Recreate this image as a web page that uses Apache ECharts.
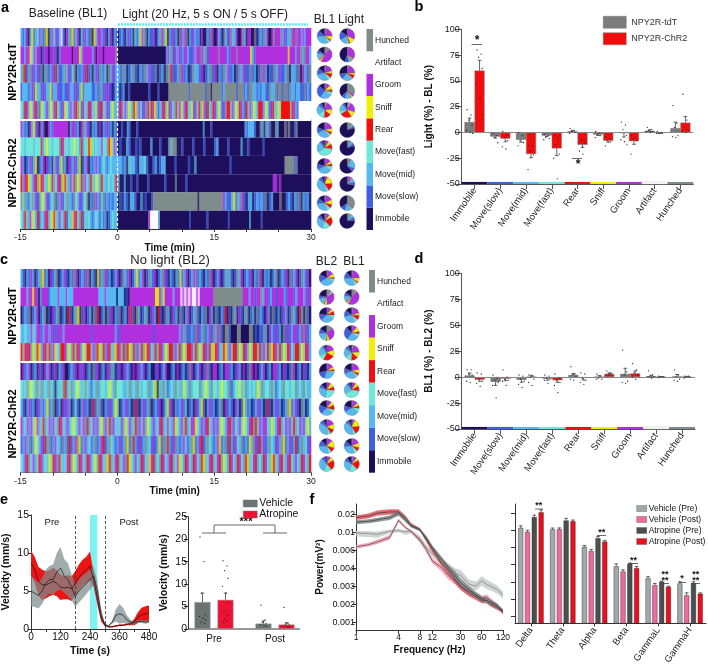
<!DOCTYPE html>
<html><head><meta charset="utf-8">
<style>html,body{margin:0;padding:0;background:#fff}#c{width:708px;height:667px}</style>
<script src="https://cdn.jsdelivr.net/npm/echarts@6/dist/echarts.min.js"></script>
</head><body><div id="c"></div>
<script>
const behaviours = ['Immobile','Move(slow)','Move(mid)','Move(fast)','Rear','Sniff','Groom','Artifact','Hunched'];
const behaviourColors = ['#1e0f5c','#3f5fe0','#55b8f0','#6ee8d8','#f00f0f','#f0f000','#b030e0','#ffffff','#7f8c8c'];

// rasters: digits index behaviours; "|" splits pre / post light
const rasterA = [
"21260251236218502631627106285126031621805266261026021|01210261203125628021160128625021612086268021621206002186006210821682260068206600801218260068666826122866866262666",
"66266536266016606616026666660666526666626066606666668|000000000000000000000000000262816261266211626686281666668666621666866666665216666666666666666665666266828662",
"28412861261802812614211282613802126141202618213082612|2182012810218261180120824112861201822160128160218261201826118120186201182611280221806218",
"12221261522161225122611211622161251222211218216161012|2012001000000000010000100000888888888881888888881880888881288888818881218822121221182281881881822122118121",
"32462536421532625364321653263642516324632516432613522|24636253245263162434652136425163243652643251634256143246253162443625346214362532446253164325344444346217777777",
"62120625160260062166666666026612068261021206021612021|001002100010000000000000000000000000000000000200010000000000000000021222100820281008200080800180000000",
"33233332333423533233324633233533242334532323633245362|0100210010100002000100082880010000100001000012000010000020010000001000000000000000000000",
"62012612501260612036125120612612501260212621232123222|2212032210223100120122000010000010020000000000000001000000000000000000000000888818000000",
"42645326425463253423642543263425342632432532432232324|2002001001000010000000100008000010000000000000000000000000000000000000000660600000000000000",
"83821382618352612381826138221832612380218621381212122|01021022100201001888888888888888888888088888888888621125128610220121218012000800121021802120",
"32432653241326423543263241325643241323212321312012322|0000000000000000677772000000000000000100000000100000000001000000000020000010000000000000000000000000"
];
const rasterC = [
"2102162012851206128012610218601216802105128612012601821601251260182160128610210215126012681210218601260128210182601216021860212012801216081260182160",
"66626656602666122226222622266666666666662226222220222010666666666666655625666626667676767767666666688888888888888866626616682661266166621666126662616",
"0121801260128010612801204102850160120814012081602180120641082012801620410182061208102601281021806208102140108206102801208121062081020162018210420810",
"2232263266126626161662666666666666616666666666626166666666666666661666666666666262811218612812618268108810008800008801011820621612081612661268612",
"4346425345264342653244635243462534436245342643254634245342634254632434625344263425344634253462435462345263442534625344342634254634253463244253462",
"0612601206106260160216001216061601208160120618201601621060612601200160126001206012018601260168106601206612016206018606012601206612061018601206102",
"3238353283823283203238423823532383213282332353283332238232832332823503283123283225328233382353283323533281233523823232538233283123283323382328322",
"2102612016212512801206162013102612014128102161253012612014102612801216012516021261301206125102612012806121062015212012612014102612012851261082013",
"6236263562342362632463262353263624236263526342632362536234263625326236423632653263423665326264326263532642632635326424362663253264236263423626352",
"1262812532614281263218214126851262312812641283212612851242161282316125182421682126312851264128321265128142163281215286142612832162851261241282316",
"3264236234623253462432364253246324623524632542364236245326324632564232463264236532463246324523642364253246324632452364232463254326432643263246324"
];

// pies: Hunched, Artifact, Groom, Sniff, Rear, Fast, Mid, Slow, Immobile (clockwise from top)
const pieOrder = [8,7,6,5,4,3,2,1,0];
const piesBL1 = [[3,0,22,9,3,7,30,14,12],[10,1,47,4,2,3,11,7,15],[3,0,18,5,10,8,28,14,14],[2,0,10,10,5,8,25,28,12],[3,1,20,12,15,14,20,8,7],[2,0,20,8,5,6,28,12,19],[1,0,8,7,11,40,22,6,5],[2,0,12,6,5,10,32,13,20],[1,0,6,17,17,7,38,8,6],[3,0,15,10,8,8,28,12,14],[3,0,8,6,20,18,27,8,10]];
const piesLight = [[2,0,30,12,3,5,15,18,15],[3,0,33,3,1,2,5,8,45],[3,0,22,5,8,3,20,12,27],[32,0,6,3,1,3,10,8,37],[5,2,22,12,25,8,15,5,6],[8,0,0,1,1,1,5,4,80],[5,0,1,1,0,1,6,6,80],[5,0,1,1,1,2,20,8,62],[1,0,8,1,1,2,8,7,72],[35,0,2,1,1,3,13,10,35],[3,1,1,1,1,2,8,7,76]];
const piesBL2 = [[2,0,14,8,3,6,33,17,17],[12,3,35,5,2,3,12,6,22],[1,0,10,6,8,8,30,14,23],[14,0,30,6,2,6,16,10,16],[1,0,18,14,24,12,20,6,5],[2,0,14,6,4,4,25,17,28],[1,0,8,9,8,27,28,7,12],[1,0,10,8,10,8,25,20,18],[1,0,18,12,10,8,35,9,7],[1,0,12,16,10,8,28,13,12],[1,0,8,8,22,17,32,8,4]];

// panel b
const bTdT = [10,-4,-7,-3,1,-2,-0.5,1.5,4];
const bChR2 = [60,-6,-21,-15.5,-12,-8,-8.5,-0.5,9.5];
const bTdTErr = [4,1.5,2.5,1,1,1,4,1,6];
const bChR2Err = [10,3,3.5,7,2.5,1.5,3,0.5,6];
const bTdTDots = [[22,17,12,7,2,0,-1],[-1,-3,-5,-10],[0,-3,-8,-10,-13],[-2,-3,-5,-6,-7],[4,2,1,0,-1],[1,-1,-2,-3,-5],[10,7,3,-3,-7,-9,-12],[5,3,2,1,1,0],[26,9,5,-3,-4,-5]];
const bChR2Dots = [[80,76,73,62,48,33,17],[1,-3,-5,-8,-14,-16],[-13,-13,-18,-22,-36],[-3,-5,-12,-21,-25,-45],[-6,-7,-8,-10,-18,-21],[-4,-6,-8,-9,-13],[-3,-5,-6,-8,-21],[1,0,-0.5,-1,-1],[37,12,5,3,1,0]];
// panel d
const dTdT = [1.5,-4.5,-2.5,-1.5,2,0,3,0.8,0.5];
const dChR2 = [-2.5,-1.5,0.3,-3,-0.8,3,3.5,0.2,0.2];
const dTdTErr = [2.5,3.5,2.5,1.5,1.5,1.5,5.5,1,2];
const dChR2Err = [1.5,2,1.5,2,2,1,2.5,0.3,0.5];
const dTdTDots = [[7,7,3,2,-4,-5],[2,-1,-3,-5,-8,-20],[2,1,-2,-4,-7,-10],[2,1,-1,-2,-3,-6],[10,3,2,1,-2,-3],[3,1,-1,-2,-2],[26,5,2,-4,-5,-6],[6,2,1,0,0,-1],[7,2,0,-2,-3,-4]];
const dChR2Dots = [[4,3,-2,-4,-6,-9],[7,0,-2,-3,-4,-8],[2,1,0,-2,-5,-8],[3,-1,-3,-5,-8,-15],[4,3,-1,-3,-5,-7],[6,4,3,3,2,2],[13,7,4,2,0,-2],[1,0.5,0,0,-0.5],[1,1,0,0,-1]];

// panel e
const eTime = [0,15,30,45,60,75,90,105,120,135,150,165,180,195,210,225,240,255,270,285,300,315,330,345,360,375,390,405,420,435,450,465,480];
const eVehicle = [5,4.7,4.4,5,6,6.5,6.5,7.5,8,7,6.5,5.5,4.3,5,5.5,6,6.5,7,5,2,0.5,0.4,0.9,1.8,2,1.8,1.2,0.9,0.8,1,1,0.9,1];
const eVehicleSem = [2,1.8,1.7,1.7,1.8,1.8,2,2.5,2.8,2.2,2.2,1.7,1.4,1.5,1.5,1.4,1.3,1.2,1.2,0.7,0.2,0.1,0.2,0.8,1.3,1,0.6,0.3,0.2,0.2,0.2,0.2,0.2];
const eAtropine = [8.7,7.8,6.3,5.8,5.8,6,6.3,6,5.5,5.4,5.5,5.3,6,6.8,7.4,7.8,8.3,6.5,4,1.5,0.6,0.3,0.3,0.4,0.5,0.5,0.6,0.7,0.9,1.5,1.9,2,2.1];
const eAtropineSem = [1.6,1.7,1.9,2,1.8,1.7,1.8,1.7,1.7,1.5,1.6,1.6,1.6,1.7,1.7,1.7,1.9,0.9,0.8,0.5,0.2,0.1,0.1,0.1,0.1,0.1,0.1,0.2,0.4,0.7,0.9,1,1];
const eCats = ['Pre','Post'];
const eBarVehicle = [6,1.2], eBarAtropine = [6.5,1];
const eErrVehicle = [2,0.6], eErrAtropine = [1.5,0.4];
const eDotsVehicle = [[20.5,15,8,3.2,2.8,2.4,2,1.5,1.2],[5.3,2,1.5,1.2,1,0.8,0.6]];
const eDotsAtropine = [[15.2,14,13,11.3,9.5,8,6,4,3,2.3,1.7,1.5],[4.8,1.3,1.1,0.9,0.7,0.5,0.4]];

// panel f
const fFreq = [1,1.5,2,3,4,5,6,8,10,12,16,20,25,30,40,50,60,70,80,100,120];
const fAtrPost = [.018,.019,.0205,.0212,.0212,.018,.014,.0115,.0082,.0062,.0046,.0039,.0034,.003,.0026,.0024,.0022,.0022,.002,.0018,.0016];
const fAtrPre = [.0155,.016,.0168,.018,.0205,.0168,.0135,.0112,.0085,.0066,.005,.0041,.0036,.0032,.0028,.0025,.0023,.0022,.0021,.0019,.0016];
const fVehPre = [.0098,.0097,.0095,.0105,.0108,.0102,.0105,.0085,.0065,.0056,.0048,.0042,.0037,.0036,.0031,.003,.0033,.0031,.003,.0028,.0025];
const fVehPost = [.0067,.0072,.0078,.0088,.0165,.0125,.0105,.0082,.006,.0048,.0041,.0036,.0033,.003,.0027,.0025,.0023,.0024,.0022,.0019,.0015];
const fPowerTicks = [.001,.002,.003,.004,.006,.01,.02];
const fFreqTicks = [1,4,8,12,30,60,120];
const fBands = ['Delta','Theta','Alpha','Beta','GammaL','GammaH'];
const fVP = [.0116,.0107,.0062,.0039,.0032,.0029], fVPo = [.0097,.0108,.0056,.0036,.0028,.0022];
const fAP = [.0179,.0159,.0082,.0041,.003,.0029], fAPo = [.0207,.0155,.0074,.0038,.0027,.0023];
const fVPe = [.0012,.0008,.0003,.0002,.0001,.0001], fVPoe = [.0005,.0008,.0002,.0001,.0001,.00015];
const fAPe = [.0012,.0013,.0004,.0001,.00004,.0001], fAPoe = [.0014,.0007,.0003,.0001,.00004,.00005];

const FONT = '"Liberation Sans",Arial,sans-serif';
const AX = '#555';

function rank(v){
  const t = fPowerTicks;
  if (v <= t[0]) return 0.44 + (v-t[0])/(t[1]-t[0]);
  for (let i=0;i<t.length-1;i++) if (v<=t[i+1]) return 0.44+i+(v-t[i])/(t[i+1]-t[i]);
  return 0.44+6+(v-t[6])/(t[6]-t[5]);
}
const rankTicks = fPowerTicks.map(rank);

function hexMix(list){
  let r=0,g=0,b=0;
  list.forEach(([c,w])=>{const n=parseInt(c.slice(1),16);r+=w*(n>>16);g+=w*((n>>8)&255);b+=w*(n&255);});
  return 'rgb('+Math.round(r)+','+Math.round(g)+','+Math.round(b)+')';
}
function rasterData(rows){
  const out=[];
  const seg=(s,a,b,r)=>{const d=(b-a)/s.length;let i=0;const runs=[];
    while(i<s.length){let j=i;while(j<s.length&&s[j]===s[i])j++;runs.push([a+i*d,a+j*d,r,+s[i],j-i]);i=j;}
    runs.forEach((u,k)=>{const own=behaviourColors[u[3]],p=runs[k-1]?behaviourColors[runs[k-1][3]]:own,n=runs[k+1]?behaviourColors[runs[k+1][3]]:own;
      const w=u[4]===1?0.72:(u[4]===2?0.9:1);
      out.push({value:u.slice(0,4),fill:hexMix([[own,w],[p,(1-w)/2],[n,(1-w)/2]])});});};
  rows.forEach((s,r)=>{const p=s.split('|');if(p.length===2){seg(p[0],-15,0,r);seg(p[1],0,30,r);}else seg(s,-15,30,r);});
  return out;
}
function rasterSeries(rows,xi,yi,extra){
  const cells=rasterData(rows);
  return Object.assign({type:'custom',xAxisIndex:xi,yAxisIndex:yi,silent:true,data:cells.map(c=>c.value),encode:{x:[0,1],y:2},
    renderItem:(p,api)=>{const a=api.coord([api.value(0),api.value(2)]),b=api.coord([api.value(1),api.value(2)+1]);
      return {type:'rect',shape:{x:a[0],y:a[1],width:b[0]-a[0]+0.3,height:b[1]-a[1]},style:{fill:cells[p.dataIndex].fill}};}},extra||{});
}
function rasterMark(withZero){
  const d=[{yAxis:5,lineStyle:{color:'#fff',width:2,type:'solid'}}];
  if(withZero) d.push({xAxis:0,lineStyle:{color:'#fff',width:1.2,type:[3,2]}});
  return {markLine:{silent:true,symbol:'none',label:{show:false},animation:false,data:d}};
}
function rasterAxes(grid){
  const x={gridIndex:grid,type:'value',min:-15,max:30,interval:5,axisLine:{onZero:false,lineStyle:{color:'#333'}},axisTick:{length:3,lineStyle:{color:'#333'}},splitLine:{show:false},
    axisLabel:{fontFamily:FONT,fontSize:8.5,color:'#222',margin:4,formatter:v=>v%15===0?String(v):''},
    name:'Time (min)',nameLocation:'middle',nameGap:grid===0?3:5,nameTextStyle:{fontFamily:FONT,fontSize:10,fontWeight:'bold',color:'#111',padding:[0,0,0,grid===0?8:18]}};
  const tick=[.5,1.5,2.5,3.5,4.5,5.5,6.5,7.5,8.5,9.5,10.5];
  const y=pos=>({gridIndex:grid,type:'value',inverse:true,min:0,max:11,position:pos,axisLine:{show:false},splitLine:{show:false},axisLabel:{show:false},
    axisTick:{inside:true,length:2,lineStyle:{color:'#000',width:1},customValues:tick}});
  return {x,y:[y('left'),y('right')]};
}
function colorbarAxes(grid){
  return {x:{gridIndex:grid,type:'value',min:0,max:1,show:false},
    y:{gridIndex:grid,type:'category',data:behaviours,position:'right',axisLine:{show:false},axisTick:{show:false},
      axisLabel:{fontFamily:FONT,fontSize:8.5,color:'#222',margin:2,formatter:v=>v}}};
}
function colorbarSeries(xi,yi){
  return {type:'bar',xAxisIndex:xi,yAxisIndex:yi,silent:true,barWidth:'100%',data:behaviours.map((b,i)=>({value:1,itemStyle:{color:behaviourColors[i]}}))};
}
function errSeries(vals,errs,off,xi,yi,conv){
  conv=conv||(v=>v);
  return {type:'custom',xAxisIndex:xi,yAxisIndex:yi,silent:true,z:4,data:vals.map((v,i)=>[i,v,errs[i]]),encode:{x:0,y:1},
    renderItem:(p,api)=>{const i=api.value(0),v=+api.value(1),e=+api.value(2);
      const s=api.coord([i,conv(v)]),t=api.coord([i,v>=0?conv(v+e):conv(v-e)]),x=s[0]+off;
      const w=1.8;
      return {type:'group',children:[
        {type:'line',shape:{x1:x,y1:s[1],x2:x,y2:t[1]},style:{stroke:'#222',lineWidth:0.7}},
        {type:'line',shape:{x1:x-w,y1:t[1],x2:x+w,y2:t[1]},style:{stroke:'#222',lineWidth:0.7}}]};}};
}
const jitter=[-2.5,1.5,-1,2.5,-3,0.5,3,-1.5,2,-0.5,1,-2];
function dotSeries(lists,off,xi,yi,color){
  const data=[];lists.forEach((l,i)=>l.forEach((v,k)=>data.push([i,v,k])));
  return {type:'custom',xAxisIndex:xi,yAxisIndex:yi,silent:true,z:5,data,encode:{x:0,y:1},
    renderItem:(p,api)=>{const c=api.coord([api.value(0),api.value(1)]);
      return {type:'circle',shape:{cx:c[0]+off+jitter[api.value(2)%12],cy:c[1],r:0.65},style:{fill:color||'#222'}};}};
}
function stripSeries(xi,yi){
  return {type:'custom',xAxisIndex:xi,yAxisIndex:yi,silent:true,z:6,data:behaviours.map((b,i)=>[i,-50]),encode:{x:0,y:1},
    renderItem:(p,api)=>{const i=api.value(0),c=api.coord([i,-50]),t=api.coord([i,-48]),w=api.size([1,0])[0];
      return {type:'rect',shape:{x:c[0]-w/2,y:t[1],width:w,height:c[1]-t[1]},
        style:{fill:behaviourColors[i],stroke:i===7?'#bbb':null,lineWidth:0.4}};}};
}
function bandSeries(xs,lo,hi,fill,xi,yi,z,conv){
  conv=conv||(v=>v);
  return {type:'custom',xAxisIndex:xi,yAxisIndex:yi,silent:true,z,data:xs.map((x,i)=>[x,lo[i],hi[i]]),encode:{x:0,y:[1,2]},
    renderItem:(p,api)=>{ if(p.dataIndex!==0) return null;
      const up=xs.map((x,i)=>api.coord([x,conv(hi[i])])),dn=xs.map((x,i)=>api.coord([x,conv(lo[i])])).reverse();
      return {type:'polygon',shape:{points:up.concat(dn)},style:{fill}};}};
}
function lineSeries(name,xs,ys,color,xi,yi,z,extra){
  return Object.assign({name,type:'line',xAxisIndex:xi,yAxisIndex:yi,z,showSymbol:false,symbol:'none',silent:true,data:xs.map((x,i)=>[x,ys[i]]),lineStyle:{color,width:0.8}},extra||{});
}
function diffYAxis(grid,name){
  return {gridIndex:grid,type:'value',min:-50,max:100,interval:25,name,nameLocation:'middle',nameGap:27,
    nameTextStyle:{fontFamily:FONT,fontSize:10,fontWeight:'bold',color:'#111'},
    axisLine:{show:true,lineStyle:{color:AX}},axisTick:{show:true,length:7,lineStyle:{color:AX}},splitLine:{show:false},
    axisLabel:{fontFamily:FONT,fontSize:9,color:'#222',margin:2}};
}
function catX(grid,data,opts){
  return Object.assign({gridIndex:grid,type:'category',data,axisLine:{onZero:false,lineStyle:{color:AX}},
    axisTick:{show:true,alignWithLabel:true,length:5,lineStyle:{color:AX}},
    axisLabel:{interval:0,fontFamily:FONT,fontSize:9.5,color:'#222',rotate:55,margin:5}},opts||{});
}
function diffBars(a,b,ae,be,ad,bd,xi,yi){
  return [
    {name:'NPY2R-tdT',type:'bar',xAxisIndex:xi,yAxisIndex:yi,barWidth:10,barGap:'0%',silent:true,data:a,itemStyle:{color:'#7c7c7c',borderColor:'#555',borderWidth:0.5},
      markLine:{silent:true,symbol:'none',label:{show:false},data:[{yAxis:0,lineStyle:{color:'#888',width:1,type:'solid'}}]}},
    {name:'NPY2R-ChR2',type:'bar',xAxisIndex:xi,yAxisIndex:yi,barWidth:10,silent:true,data:b,itemStyle:{color:'#f20d0d',borderColor:'#777',borderWidth:0.5}},
    errSeries(a,ae,-5,xi,yi),errSeries(b,be,5,xi,yi),
    dotSeries(ad,-5,xi,yi),dotSeries(bd,5,xi,yi),stripSeries(xi,yi)];
}

// ---- axes ----
const ra=rasterAxes(0), rb=colorbarAxes(1), rc=rasterAxes(3), rd=colorbarAxes(4);
const grid=[
 {left:20.5,top:28,width:290.5,height:201},
 {left:366.5,top:29,width:6.5,height:201},
 {left:461.7,top:29.3,width:231.6,height:154.7},
 {left:20.5,top:269,width:290.5,height:203.7},
 {left:369,top:270,width:6,height:202.7},
 {left:461.7,top:273.3,width:233.3,height:155.7},
 {left:30,top:515,width:119,height:114},
 {left:183.5,top:516.7,width:122,height:112.3},
 {left:356,top:504,width:147,height:126},
 {left:515,top:504,width:191,height:126}
];
const xAxis=[
 ra.x, rb.x,
 catX(2,behaviours),
 rc.x, rd.x,
 catX(5,behaviours),
 {gridIndex:6,type:'value',min:0,max:480,interval:60,axisLine:{onZero:false,lineStyle:{color:'#333'}},axisTick:{length:3,lineStyle:{color:'#333'}},splitLine:{show:false},
  axisLabel:{fontFamily:FONT,fontSize:10,color:'#111',margin:3,formatter:v=>v%120===0?String(v):''},
  name:'Time (s)',nameLocation:'middle',nameGap:17,nameTextStyle:{fontFamily:FONT,fontSize:10.5,fontWeight:'bold',color:'#111'}},
 {gridIndex:7,type:'category',data:eCats,axisLine:{show:false},axisTick:{show:false},axisLabel:{fontFamily:FONT,fontSize:10,color:'#111',margin:5}},
 {gridIndex:8,type:'log',logBase:2,min:1,max:120,axisLine:{onZero:false,lineStyle:{color:'#333'}},splitLine:{show:false},minorTick:{show:false},
  axisTick:{length:4,lineStyle:{color:'#333'},customValues:fFreqTicks},
  axisLabel:{fontFamily:FONT,fontSize:8.5,color:'#111',margin:3,customValues:fFreqTicks,formatter:v=>String(Math.round(v))},
  name:'Frequency (Hz)',nameLocation:'middle',nameGap:15,nameTextStyle:{fontFamily:FONT,fontSize:10,fontWeight:'bold',color:'#111'}},
 catX(9,fBands,{axisLine:{onZero:false,lineStyle:{color:'#333'}},axisTick:{show:true,alignWithLabel:true,length:3,lineStyle:{color:'#333'}}})
];
const yAxis=[
 ra.y[0], ra.y[1],
 rb.y,
 diffYAxis(2,'Light (%) - BL (%)'),
 rc.y[0], rc.y[1],
 rd.y,
 diffYAxis(5,'BL1 (%) - BL2 (%)'),
 {gridIndex:6,type:'value',min:0,max:15,interval:5,axisLine:{show:true,lineStyle:{color:'#333'}},axisTick:{show:true,length:3,lineStyle:{color:'#333'}},splitLine:{show:false},
  axisLabel:{fontFamily:FONT,fontSize:10.5,color:'#111',margin:2},name:'Velocity (mm/s)',nameLocation:'middle',nameGap:19,nameTextStyle:{fontFamily:FONT,fontSize:10.5,fontWeight:'bold',color:'#111'}},
 {gridIndex:7,type:'value',min:0,max:25,interval:5,offset:-4.5,axisLine:{show:true,lineStyle:{color:'#333'}},axisTick:{show:true,length:4,lineStyle:{color:'#333'}},splitLine:{show:false},
  axisLabel:{fontFamily:FONT,fontSize:10.5,color:'#111',margin:1},name:'Velocity (mm/s)',nameLocation:'middle',nameGap:18,nameTextStyle:{fontFamily:FONT,fontSize:10.5,fontWeight:'bold',color:'#111'}},
 {gridIndex:8,type:'value',min:0,max:7,axisLine:{show:true,lineStyle:{color:'#333'}},splitLine:{show:false},
  axisTick:{show:true,length:4,lineStyle:{color:'#333'},customValues:rankTicks},
  axisLabel:{fontFamily:FONT,fontSize:9,color:'#111',margin:1,customValues:rankTicks,formatter:v=>{const i=rankTicks.findIndex(r=>Math.abs(r-v)<1e-6);return i<0?'':String(fPowerTicks[i]);}},
  name:'Power(mV\u00b2)',nameLocation:'middle',nameGap:31,nameTextStyle:{fontFamily:FONT,fontSize:10,fontWeight:'bold',color:'#111'}},
 {gridIndex:9,type:'value',min:0,max:7,axisLine:{show:true,lineStyle:{color:'#333'}},splitLine:{show:false},
  axisTick:{show:true,length:4,lineStyle:{color:'#333'},customValues:rankTicks},axisLabel:{show:false}}
];

// ---- series ----
const series=[];
series.push(rasterSeries(rasterA,0,0,rasterMark(true)));
series.push({type:'line',xAxisIndex:0,yAxisIndex:1,data:[],silent:true});
series.push(colorbarSeries(1,2));
series.push(rasterSeries(rasterC,3,4,rasterMark(false)));
series.push({type:'line',xAxisIndex:3,yAxisIndex:5,data:[],silent:true});
series.push(colorbarSeries(4,6));
series.push(...diffBars(bTdT,bChR2,bTdTErr,bChR2Err,bTdTDots,bChR2Dots,2,3));
series.push(...diffBars(dTdT,dChR2,dTdTErr,dChR2Err,dTdTDots,dChR2Dots,5,7));

const pieYa=[36,54.5,73,91,110,130,148,166,184,203,221];
const pieYc=[278,297,315,333,352.7,371,390,408,427,446,464];
function pies(list,cx,ys){
  list.forEach((vals,r)=>{
    series.push({type:'pie',silent:true,radius:[0,7.6],center:[cx,ys[r]],startAngle:90,clockwise:true,label:{show:false},labelLine:{show:false},emphasis:{disabled:true},
      itemStyle:{borderColor:'#666',borderWidth:0.25},
      data:vals.map((v,i)=>({name:behaviours[pieOrder[i]],value:v,itemStyle:{color:behaviourColors[pieOrder[i]]}})).filter(d=>d.value>0)});
  });
}
pies(piesBL1,324.6,pieYa); pies(piesLight,347.2,pieYa); pies(piesBL2,326.7,pieYc); pies(piesBL1,351.7,pieYc);

const addSub=(m,s,k)=>m.map((v,i)=>Math.max(0,v+k*s[i]));
series.push(lineSeries('',[],[],'#000',6,8,1,{
  markArea:{silent:true,itemStyle:{color:'#7ff3f3'},data:[[{xAxis:240},{xAxis:270}]]},
  markLine:{silent:true,symbol:'none',label:{show:false},lineStyle:{color:'#333',type:[3,2],width:0.8},data:[{xAxis:180},{xAxis:300}]}
}));
series.push(bandSeries(eTime,addSub(eAtropine,eAtropineSem,-1),addSub(eAtropine,eAtropineSem,1),'#ee1414',6,8,2));
series.push(bandSeries(eTime,addSub(eVehicle,eVehicleSem,-1),addSub(eVehicle,eVehicleSem,1),'rgba(125,140,140,0.72)',6,8,3));
series.push(lineSeries('Atropine mean',eTime,eAtropine,'#331111',6,8,4));
series.push(lineSeries('Vehicle mean',eTime,eVehicle,'#222',6,8,4));

series.push({name:'Vehicle',type:'bar',xAxisIndex:7,yAxisIndex:9,barWidth:16,barGap:'44%',silent:true,data:eBarVehicle,itemStyle:{color:'#6b7373',borderColor:'#999',borderWidth:0.6}});
series.push({name:'Atropine',type:'bar',xAxisIndex:7,yAxisIndex:9,barWidth:16,silent:true,data:eBarAtropine,itemStyle:{color:'#ee1133',borderColor:'#999',borderWidth:0.6}});
series.push(errSeries(eBarVehicle,eErrVehicle,-11.5,7,9),errSeries(eBarAtropine,eErrAtropine,11.5,7,9));
series.push(dotSeries(eDotsVehicle,-11.5,7,9),dotSeries(eDotsAtropine,11.5,7,9));

const scale=(a,k)=>a.map(v=>v*k);
series.push(bandSeries(fFreq,scale(fVehPre,0.92),scale(fVehPre,1.08),'rgba(190,198,195,0.75)',8,10,2,rank));
series.push(bandSeries(fFreq,scale(fVehPost,0.94),scale(fVehPost,1.06),'rgba(245,150,170,0.8)',8,10,3,rank));
series.push(bandSeries(fFreq,scale(fAtrPost,0.93),scale(fAtrPost,1.07),'rgba(226,90,100,0.9)',8,10,4,rank));
series.push(bandSeries(fFreq,scale(fAtrPre,0.93),scale(fAtrPre,1.07),'rgba(130,138,136,0.85)',8,10,5,rank));
[[fVehPre,'#888'],[fVehPost,'#555'],[fAtrPost,'#444'],[fAtrPre,'#444']].forEach(([d,c])=>series.push(lineSeries('',fFreq,d.map(rank),c,8,10,6)));

[['Vehicle (Pre)',fVP,fVPe,'#a3a9a9',-10.2],['Vehicle (Post)',fVPo,fVPoe,'#f06a9b',-3.4],['Atropine (Pre)',fAP,fAPe,'#4a5050',3.4],['Atropine (Post)',fAPo,fAPoe,'#e8101c',10.2]].forEach(([n,v,e,c,off])=>{
  series.push({name:n,type:'bar',xAxisIndex:9,yAxisIndex:11,barWidth:5,barGap:'36%',silent:true,data:v.map(rank),itemStyle:{color:c,borderColor:'#222',borderWidth:0.4}});
  series.push(errSeries(v,e,off,9,11,rank));
});

// ---- annotations ----
const T=(x,y,text,o)=>({type:'text',silent:true,rotation:(o&&o.rot)||0,x,y,style:Object.assign({text,fontFamily:FONT,fontSize:(o&&o.size)||12,fontWeight:(o&&o.w)||'normal',fill:(o&&o.c)||'#222',textAlign:(o&&o.al)||'center',textVerticalAlign:'middle'})});
const L=(pts,o)=>({type:'polyline',silent:true,shape:{points:pts},style:Object.assign({stroke:'#444',lineWidth:0.8,fill:null},o||{})});
const letters=[['a',5,8],['b',419,7],['c',4,260],['d',419,259],['e',4,500],['f',312,500]].map(([t,x,y])=>T(x,y,t,{size:14.5,w:'bold',c:'#000'}));
const graphicEls=[...letters,
 T(68,14,'Baseline (BL1)',{size:12}),
 T(205,15,'Light (20 Hz, 5 s ON / 5 s OFF)',{size:12}),
 L([[118,24.5],[308,24.5]],{stroke:'#5ff0f0',lineWidth:2.5,lineDash:[2,1]}),
 T(324.5,20,'BL1',{size:12}),T(351,20,'Light',{size:12}),
 T(170,260,'No light (BL2)',{size:13}),
 T(326.5,262,'BL2',{size:12}),T(354,262,'BL1',{size:12}),
 T(13,72,'NPY2R-tdT',{size:11,w:'bold',rot:Math.PI/2,c:'#000'}),
 T(13,173,'NPY2R-ChR2',{size:11,w:'bold',rot:Math.PI/2,c:'#000'}),
 T(13,316,'NPY2R-tdT',{size:11,w:'bold',rot:Math.PI/2,c:'#000'}),
 T(13,424,'NPY2R-ChR2',{size:11,w:'bold',rot:Math.PI/2,c:'#000'}),
 T(477,41,'*',{size:12,w:'bold',c:'#111'}),L([[471.5,44.5],[482,44.5]]),
 T(578,165,'*',{size:12,w:'bold',c:'#111'}),L([[572,158.5],[582,158.5]]),
 T(52,522,'Pre',{size:9.5,c:'#111'}),T(129,522,'Post',{size:9.5,c:'#111'}),
 L([[188,629],[300,629]],{stroke:'#333',lineWidth:1}),
 L([[202,533],[226,533]]),L([[263,533],[287,533]]),L([[214,533],[214,525],[275,525],[275,533]]),
 T(246,521.5,'***',{size:11,w:'bold',c:'#111'}),
 T(538.7,506,'**',{size:9,w:'bold',c:'#111'}),L([[535,509],[543,509]]),
 T(601.7,533,'**',{size:9,w:'bold',c:'#111'}),L([[597,535.5],[606,535.5]]),
 T(633.5,561,'**',{size:9,w:'bold',c:'#111'}),L([[629,563.5],[638,563.5]]),
 T(665,575,'**',{size:9,w:'bold',c:'#111'}),T(665,581,'**',{size:9,w:'bold',c:'#111'}),L([[660,583.5],[669,583.5]]),
 T(682,579,'*',{size:9,w:'bold',c:'#111'}),L([[679,582.5],[686,582.5]]),
 T(695.7,575,'**',{size:9,w:'bold',c:'#111'}),T(695.7,581,'**',{size:9,w:'bold',c:'#111'}),L([[691,583.5],[700,583.5]])
];

const chart=echarts.init(document.getElementById('c'),null,{renderer:'canvas',width:708,height:667});
chart.setOption({animation:false,backgroundColor:'#fff',textStyle:{fontFamily:FONT},
 grid:grid.map(g=>Object.assign({containLabel:false},g)),xAxis,yAxis,series,graphic:{elements:graphicEls},
 legend:[
  {data:['NPY2R-tdT','NPY2R-ChR2'],left:603,top:16,orient:'vertical',itemWidth:23,itemHeight:12,itemGap:4,icon:'rect',selectedMode:false,itemStyle:{borderWidth:0.5,borderColor:'#777'},textStyle:{fontFamily:FONT,fontSize:9,color:'#333'},padding:0},
  {data:['Vehicle','Atropine'],left:243,top:498,orient:'vertical',itemWidth:14,itemHeight:7,itemGap:0,icon:'rect',selectedMode:false,itemStyle:{borderWidth:0.5,borderColor:'#777'},textStyle:{fontFamily:FONT,fontSize:10.5,color:'#111',padding:[0,0,0,-3]},padding:0},
  {data:['Vehicle (Pre)','Vehicle (Post)','Atropine (Pre)','Atropine (Post)'],left:636.5,top:504,orient:'vertical',itemWidth:10,itemHeight:6,itemGap:2,icon:'rect',selectedMode:false,itemStyle:{borderWidth:0.4,borderColor:'#555'},textStyle:{fontFamily:FONT,fontSize:8.5,color:'#111',padding:[0,0,0,-3]},padding:0}
 ]});
</script></body></html>
